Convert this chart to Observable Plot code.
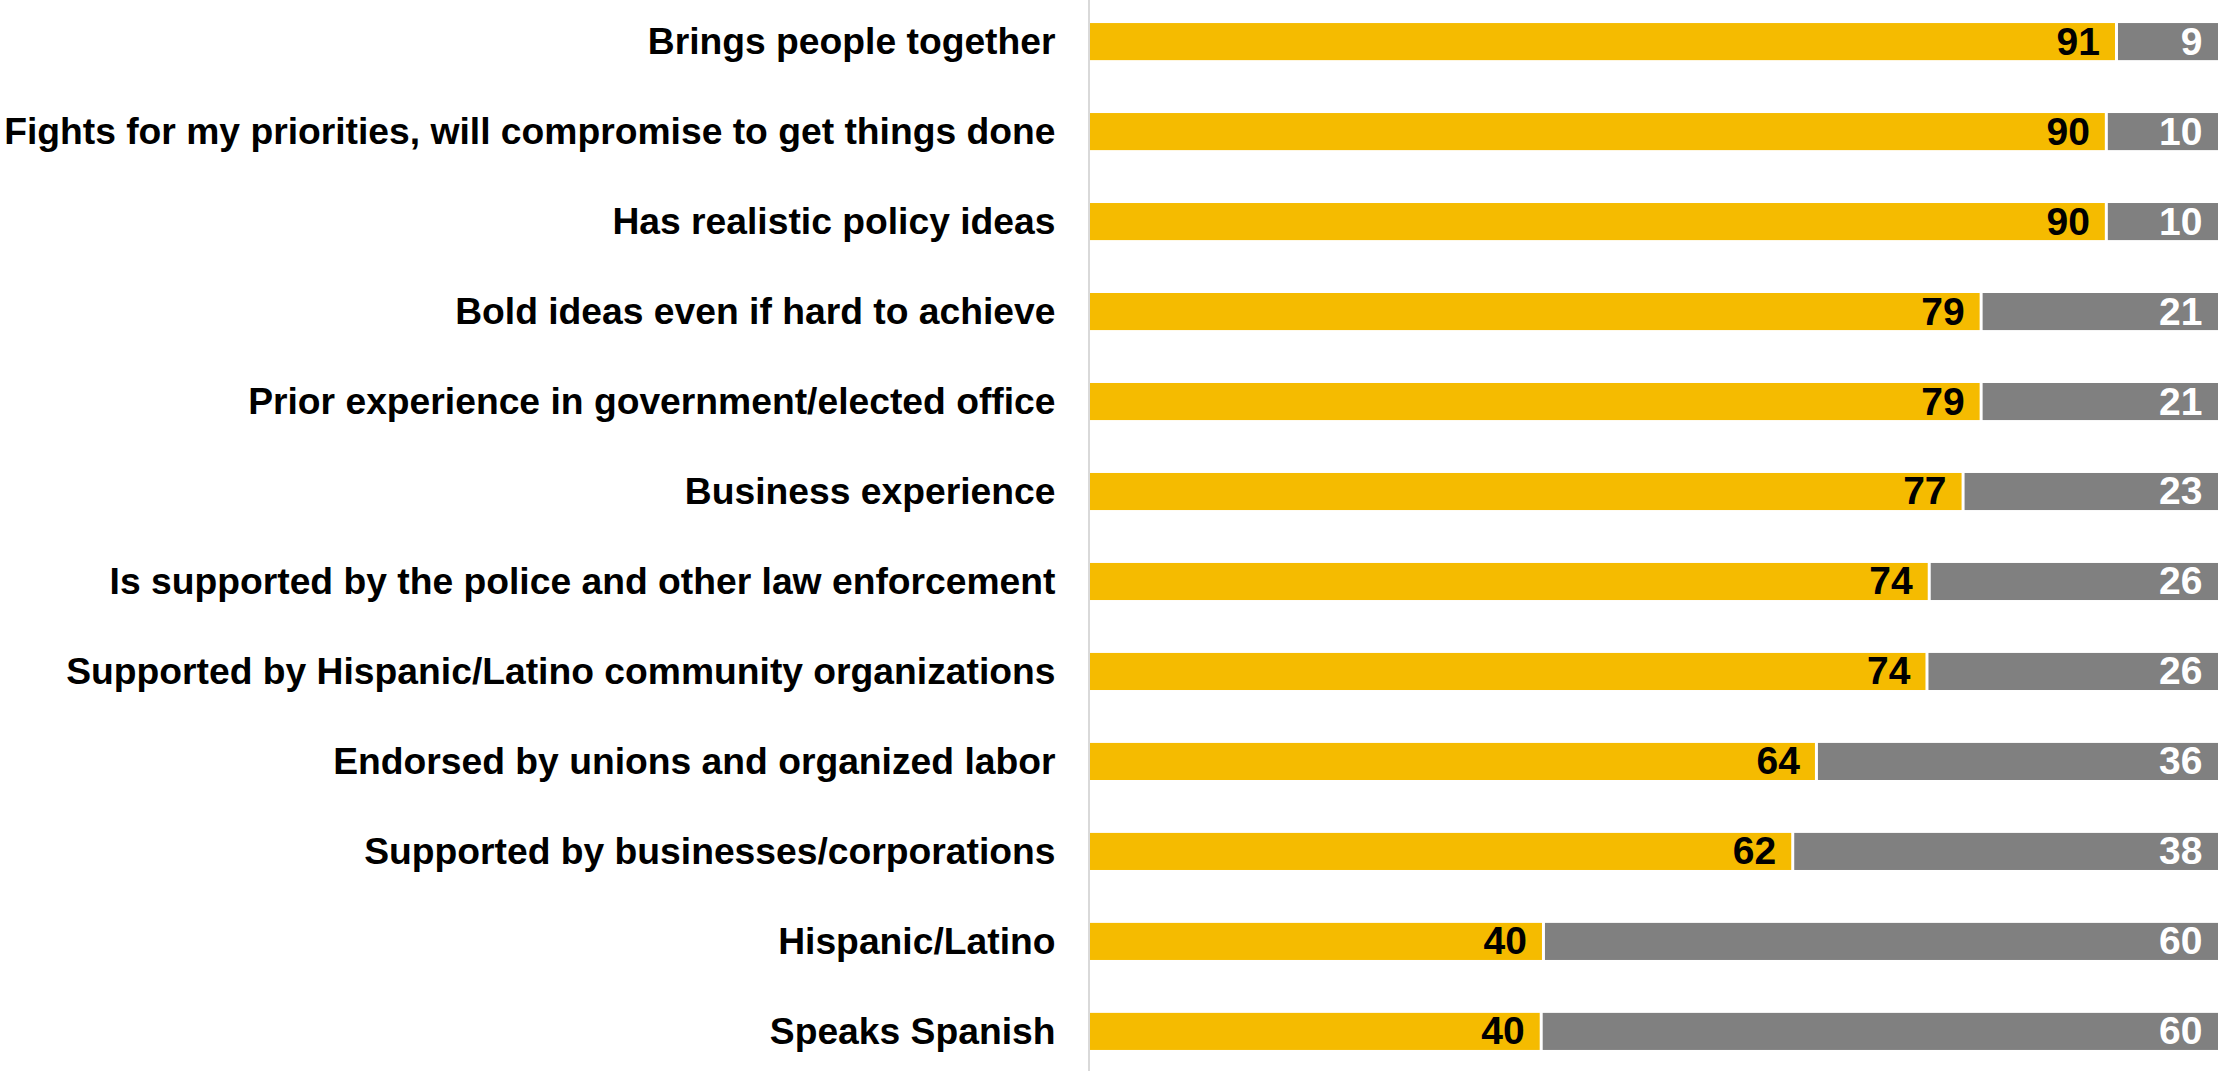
<!DOCTYPE html>
<html>
<head>
<meta charset="utf-8">
<script src="https://cdn.jsdelivr.net/npm/d3@7"></script>
<script src="https://cdn.jsdelivr.net/npm/@observablehq/plot@0.6"></script>
<style>
  html, body { margin: 0; padding: 0; background: #fff; }
  #chart svg { display: block; }
</style>
</head>
<body>
<div id="chart"></div>
<script>
const categories = [
  "Brings people together",
  "Fights for my priorities, will compromise to get things done",
  "Has realistic policy ideas",
  "Bold ideas even if hard to achieve",
  "Prior experience in government/elected office",
  "Business experience",
  "Is supported by the police and other law enforcement",
  "Supported by Hispanic/Latino community organizations",
  "Endorsed by unions and organized labor",
  "Supported by businesses/corporations",
  "Hispanic/Latino",
  "Speaks Spanish"
];
// bar lengths (labels are rounded)
const yesValues = [91.0, 90.1, 90.1, 79.0, 79.0, 77.4, 74.4, 74.2, 64.4, 62.3, 40.2, 40.0];
const yesLabels = [91, 90, 90, 79, 79, 77, 74, 74, 64, 62, 40, 40];
const noLabels  = [9, 10, 10, 21, 21, 23, 26, 26, 36, 38, 60, 60];
const seriesNames = ["Yes", "No"];
const seriesColors = ["#F5BB00", "#808080"];
const labelColors = ["#000000", "#ffffff"];

const yesRows = categories.map((c, i) => ({category: c, series: seriesNames[0], start: 0, end: yesValues[i], label: yesLabels[i]}));
const noRows = categories.map((c, i) => ({category: c, series: seriesNames[1], start: yesValues[i], end: 100, label: noLabels[i]}));

const font = "'Liberation Sans', Arial, Helvetica, sans-serif";

const chart = Plot.plot({
  width: 2221,
  height: 1071,
  marginLeft: 1090,
  marginRight: 3,
  marginTop: 2,
  marginBottom: 0,
  style: {fontFamily: font, fontWeight: "bold", background: "#fff"},
  x: {domain: [0, 100], axis: null},
  y: {domain: categories, paddingInner: 0.588, paddingOuter: 0.234, round: false, label: null},
  color: {domain: seriesNames, range: seriesColors},
  marks: [
    Plot.ruleX([0], {stroke: "#d9d9d9", strokeWidth: 2, dx: -1.5, insetTop: -3}),
    Plot.barX(yesRows, {x1: "start", x2: "end", y: "category", fill: "series", insetRight: 1.5}),
    Plot.barX(noRows, {x1: "start", x2: "end", y: "category", fill: "series", insetLeft: 1.5}),
    Plot.text(yesRows, {x: "end", y: "category", text: d => String(d.label), textAnchor: "end", dx: -17, fill: labelColors[0], fontSize: 39, fontWeight: "bold"}),
    Plot.text(noRows, {x: "end", y: "category", text: d => String(d.label), textAnchor: "end", dx: -16, fill: labelColors[1], fontSize: 39, fontWeight: "bold"}),
    Plot.axisY({tickSize: 0, tickPadding: 35, fontSize: 37.25, fontWeight: "bold", fill: "#000", label: null})
  ]
});
document.getElementById("chart").appendChild(chart);
</script>
</body>
</html>
